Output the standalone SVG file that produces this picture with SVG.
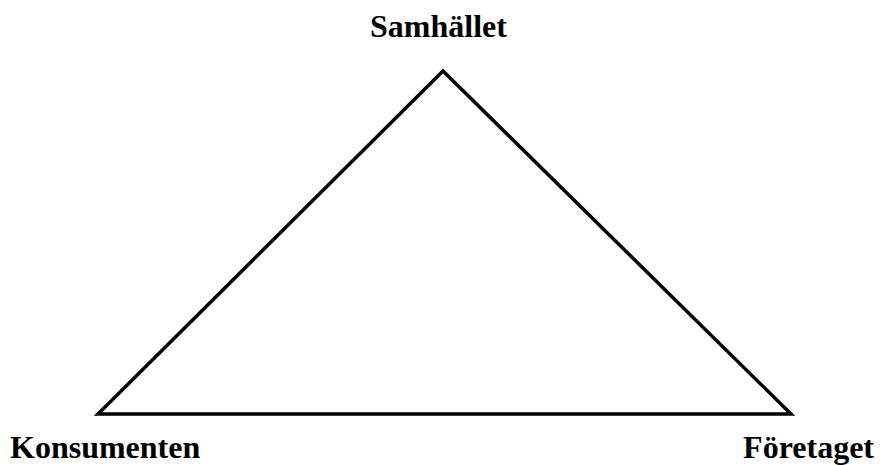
<svg xmlns="http://www.w3.org/2000/svg" width="881" height="465" viewBox="0 0 881 465">
<style>
.lbl{font-family:"Liberation Serif","Times New Roman",serif;font-weight:bold;font-size:32px;fill:#000}
.edge{fill:none;stroke:#000;stroke-width:3.5;stroke-linejoin:miter}
</style>
<rect width="881" height="465" fill="#fff"/>
<g id="connectors">
<polygon class="edge" points="443,71 98,414 791,414"/>
</g>
<g id="samhallet"><text class="lbl" x="438.5" y="37" text-anchor="middle">Samhället</text></g>
<g id="konsumenten"><text class="lbl" x="10" y="458">Konsumenten</text></g>
<g id="foretaget"><text class="lbl" x="874" y="458" text-anchor="end">Företaget</text></g>
</svg>
